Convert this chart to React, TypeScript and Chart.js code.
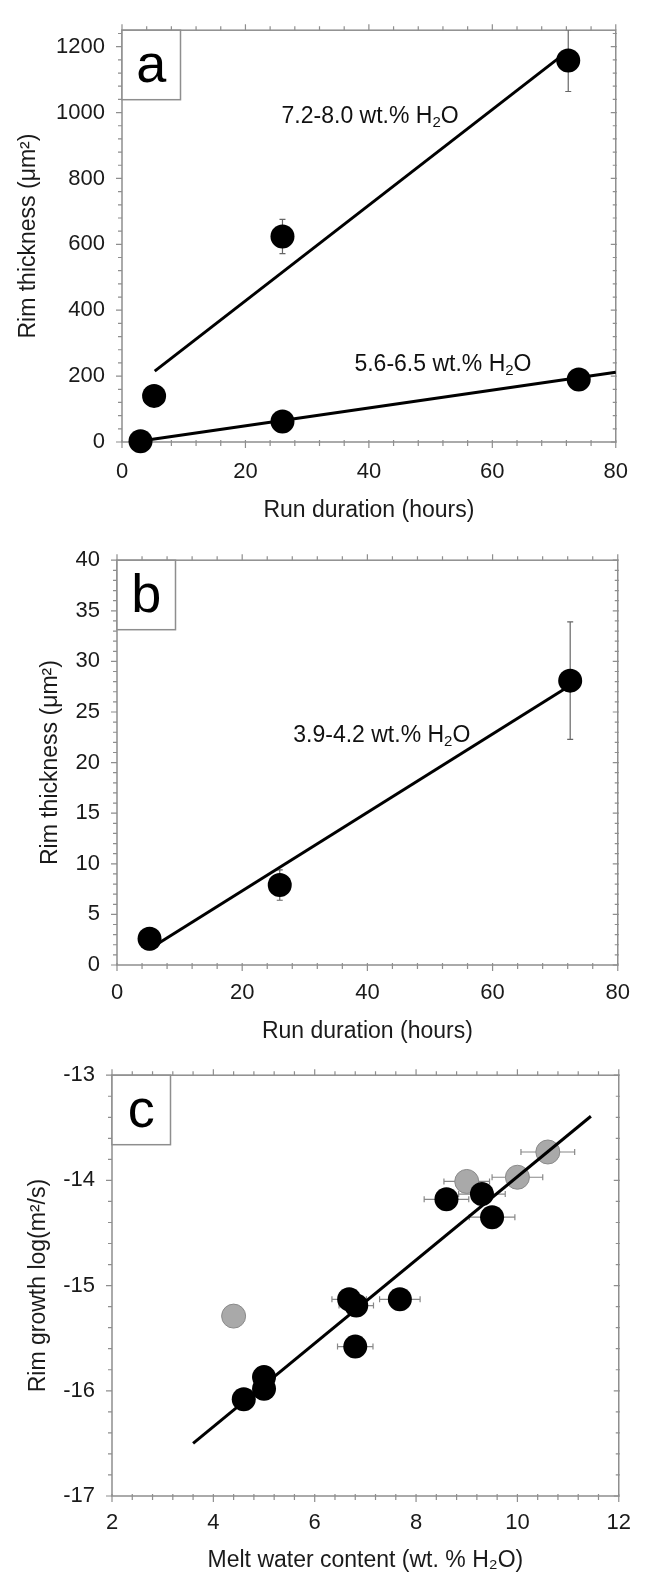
import React, { useEffect, useRef } from "react";
import { Chart, registerables } from "chart.js";

Chart.register(...registerables);

const FONT = "'Liberation Sans', Arial, Helvetica, sans-serif";

// ---------- Panel a ----------
const aHighX = [5.2, 26, 72.3];
const aHighY = [140, 624, 1158];
const aHighErr = [0, 52, 94];
const aLowX = [3, 26, 74];
const aLowY = [2, 62, 190];
const aHighFitX = [5.3, 70.8];
const aHighFitY = [215, 1166];
const aLowFitX = [3, 80];
const aLowFitY = [3, 212];
const aXTicks = [0, 20, 40, 60, 80];
const aYTicks = [0, 200, 400, 600, 800, 1000, 1200];

// ---------- Panel b ----------
const bX = [5.2, 26, 72.4];
const bY = [2.6, 7.9, 28.1];
const bErr = [1.1, 1.5, 5.8];
const bFitX = [6.0, 71.8];
const bFitY = [1.9, 27.4];
const bXTicks = [0, 20, 40, 60, 80];
const bYTicks = [0, 5, 10, 15, 20, 25, 30, 35, 40];

// ---------- Panel c ----------
const cBlackX = [8.6, 9.3, 9.5, 6.68, 6.82, 7.68, 6.8, 5.0, 5.0, 4.6];
const cBlackY = [-14.18, -14.13, -14.35, -15.13, -15.19, -15.13, -15.58, -15.87, -15.98, -16.08];
const cBlackXErr = [0.44, 0.46, 0.45, 0.34, 0.34, 0.4, 0.35, 0.2, 0.2, 0];
const cGrayX = [4.4, 9.0, 10.0, 10.6];
const cGrayY = [-15.29, -14.01, -13.97, -13.73];
const cGrayXErr = [0, 0.45, 0.5, 0.53];
const cFitX = [3.6, 11.45];
const cFitY = [-16.5, -13.39];
const cXTicks = [2, 4, 6, 8, 10, 12];
const cYTicks = [-17, -16, -15, -14, -13];

const pts = (xs: number[], ys: number[]) => xs.map((x, i) => ({ x, y: ys[i] }));

type Note = { x: number; y: number; main: string; sub: string; tail: string };
type ErrSet = { x: number[]; y: number[]; ex?: number[]; ey?: number[]; color: string };

type Panel = {
  top: number;
  height: number;
  xMin: number; xMax: number; yMin: number; yMax: number;
  xTicks: number[]; yTicks: number[];
  xMinor: number; yMinor: number;
  datasets: any[];
  errs: ErrSet[];
  notes: Note[];
  letter: string;
  xTitle: string; yTitle: string;
  padTop: number; padRight: number;
  yAxisWidth: number; xAxisHeight: number;
  tickPadX: number; titlePadX: number; titlePadY: number;
};

const line = (xs: number[], ys: number[]) => ({
  data: pts(xs, ys),
  showLine: true,
  borderColor: "#000",
  borderWidth: 3,
  pointRadius: 0,
  clip: false,
});
const dots = (xs: number[], ys: number[], fill: string, stroke: string, bw: number) => ({
  data: pts(xs, ys),
  showLine: false,
  pointRadius: 12,
  pointBackgroundColor: fill,
  pointBorderColor: stroke,
  pointBorderWidth: bw,
  backgroundColor: fill,
  borderColor: stroke,
  clip: false,
});

const panels: Panel[] = [
  {
    top: 0, height: 530,
    xMin: 0, xMax: 80, yMin: 0, yMax: 1250,
    xTicks: aXTicks, yTicks: aYTicks, xMinor: 4, yMinor: 40,
    datasets: [
      line(aHighFitX, aHighFitY),
      line(aLowFitX, aLowFitY),
      dots(aHighX, aHighY, "#000", "#000", 0),
      dots(aLowX, aLowY, "#000", "#000", 0),
    ],
    errs: [{ x: aHighX, y: aHighY, ey: aHighErr, color: "#666" }],
    notes: [
      { x: 40.2, y: 992, main: "7.2-8.0 wt.% H", sub: "2", tail: "O" },
      { x: 52, y: 239, main: "5.6-6.5 wt.% H", sub: "2", tail: "O" },
    ],
    letter: "a",
    xTitle: "Run duration (hours)",
    yTitle: "Rim thickness (\u03bcm\u00b2)",
    padTop: 13, padRight: 14, yAxisWidth: 122, xAxisHeight: 88,
    tickPadX: 17, titlePadX: 6, titlePadY: 15,
  },
  {
    top: 530, height: 515,
    xMin: 0, xMax: 80, yMin: 0, yMax: 40,
    xTicks: bXTicks, yTicks: bYTicks, xMinor: 4, yMinor: 1,
    datasets: [line(bFitX, bFitY), dots(bX, bY, "#000", "#000", 0)],
    errs: [{ x: bX, y: bY, ey: bErr, color: "#666" }],
    notes: [{ x: 42.3, y: 22.8, main: "3.9-4.2 wt.% H", sub: "2", tail: "O" }],
    letter: "b",
    xTitle: "Run duration (hours)",
    yTitle: "Rim thickness (\u03bcm\u00b2)",
    padTop: 23, padRight: 20, yAxisWidth: 117, xAxisHeight: 80,
    tickPadX: 15, titlePadX: 0, titlePadY: 37,
  },
  {
    top: 1045, height: 530,
    xMin: 2, xMax: 12, yMin: -17, yMax: -13,
    xTicks: cXTicks, yTicks: cYTicks, xMinor: 0.4, yMinor: 0.2,
    datasets: [
      line(cFitX, cFitY),
      dots(cBlackX, cBlackY, "#000", "#000", 0),
      dots(cGrayX, cGrayY, "#a9a9a9", "#8a8a8a", 1),
    ],
    errs: [
      { x: cGrayX, y: cGrayY, ex: cGrayXErr, color: "#888" },
      { x: cBlackX, y: cBlackY, ex: cBlackXErr, color: "#888" },
    ],
    notes: [],
    letter: "c",
    xTitle: "Melt water content (wt. % H\u2082O)",
    yTitle: "Rim growth log(m\u00b2/s)",
    padTop: 30, padRight: 19, yAxisWidth: 112, xAxisHeight: 79,
    tickPadX: 14, titlePadX: 1, titlePadY: 25,
  },
];

function makePlugin(p: Panel) {
  return {
    id: "decor" + p.letter,
    beforeDatasetsDraw(chart: any) {
      const { ctx, chartArea, scales } = chart;
      const { left, right, top, bottom } = chartArea;
      const xs = scales.x;
      const ys = scales.y;
      ctx.save();
      ctx.strokeStyle = "#8e8e8e";
      ctx.lineWidth = 1.5;
      ctx.strokeRect(left, top, right - left, bottom - top);
      ctx.lineWidth = 1.2;
      ctx.beginPath();
      const nx = Math.round((p.xMax - p.xMin) / p.xMinor);
      for (let i = 0; i <= nx; i++) {
        const v = p.xMin + i * p.xMinor;
        const major = p.xTicks.some((t) => Math.abs(t - v) < 1e-6);
        const px = xs.getPixelForValue(v);
        const len = major ? 6 : 4;
        ctx.moveTo(px, bottom - 2);
        ctx.lineTo(px, bottom + len);
        ctx.moveTo(px, top);
        ctx.lineTo(px, top - len);
      }
      const ny = Math.round((p.yMax - p.yMin) / p.yMinor);
      for (let i = 0; i <= ny; i++) {
        const v = p.yMin + i * p.yMinor;
        const major = p.yTicks.some((t) => Math.abs(t - v) < 1e-6);
        const py = ys.getPixelForValue(v);
        const len = major ? 6 : 4;
        ctx.moveTo(left, py);
        ctx.lineTo(left - len, py);
        ctx.moveTo(right + 1, py);
        ctx.lineTo(right - len + 1, py);
      }
      ctx.stroke();

      // error bars
      ctx.save();
      ctx.beginPath();
      ctx.rect(left, top, right - left, bottom - top);
      ctx.clip();
      for (const e of p.errs) {
        ctx.strokeStyle = e.color;
        ctx.lineWidth = 1.2;
        ctx.beginPath();
        e.x.forEach((xv, i) => {
          const yv = e.y[i];
          const cx = xs.getPixelForValue(xv);
          const cy = ys.getPixelForValue(yv);
          if (e.ey && e.ey[i] > 0) {
            const y1 = ys.getPixelForValue(yv + e.ey[i]);
            const y2 = ys.getPixelForValue(yv - e.ey[i]);
            ctx.moveTo(cx, y1); ctx.lineTo(cx, y2);
            ctx.moveTo(cx - 3, y1); ctx.lineTo(cx + 3, y1);
            ctx.moveTo(cx - 3, y2); ctx.lineTo(cx + 3, y2);
          }
          if (e.ex && e.ex[i] > 0) {
            const x1 = xs.getPixelForValue(xv - e.ex[i]);
            const x2 = xs.getPixelForValue(xv + e.ex[i]);
            ctx.moveTo(x1, cy); ctx.lineTo(x2, cy);
            ctx.moveTo(x1, cy - 3); ctx.lineTo(x1, cy + 3);
            ctx.moveTo(x2, cy - 3); ctx.lineTo(x2, cy + 3);
          }
        });
        ctx.stroke();
      }
      ctx.restore();
      ctx.restore();
    },
    afterDatasetsDraw(chart: any) {
      const { ctx, chartArea, scales } = chart;
      ctx.save();
      // notes with subscript
      for (const n of p.notes) {
        const cx = scales.x.getPixelForValue(n.x);
        const cy = scales.y.getPixelForValue(n.y);
        const big = `23px ${FONT}`;
        const small = `15px ${FONT}`;
        ctx.font = big;
        const w1 = ctx.measureText(n.main).width;
        const w3 = ctx.measureText(n.tail).width;
        ctx.font = small;
        const w2 = ctx.measureText(n.sub).width;
        let sx = cx - (w1 + w2 + w3) / 2;
        const base = cy + 8;
        ctx.fillStyle = "#111";
        ctx.textBaseline = "alphabetic";
        ctx.textAlign = "left";
        ctx.font = big;
        ctx.fillText(n.main, sx, base);
        sx += w1;
        ctx.font = small;
        ctx.fillText(n.sub, sx, base + 4);
        sx += w2;
        ctx.font = big;
        ctx.fillText(n.tail, sx, base);
      }
      // panel letter box
      const bw = 58.5, bh = 69.5;
      ctx.fillStyle = "#fff";
      ctx.fillRect(chartArea.left, chartArea.top, bw, bh);
      ctx.strokeStyle = "#8e8e8e";
      ctx.lineWidth = 1.5;
      ctx.strokeRect(chartArea.left, chartArea.top, bw, bh);
      ctx.fillStyle = "#000";
      ctx.font = `54px ${FONT}`;
      ctx.textAlign = "center";
      ctx.textBaseline = "alphabetic";
      ctx.fillText(p.letter, chartArea.left + bw / 2, chartArea.top + 52);
      ctx.restore();
    },
  };
}

function buildConfig(p: Panel): any {
  return {
    type: "scatter",
    data: { datasets: p.datasets },
    options: {
      animation: false,
      responsive: false,
      events: [],
      devicePixelRatio: 1,
      layout: { padding: { left: 0, right: p.padRight, top: p.padTop, bottom: 0 } },
      plugins: { legend: { display: false }, tooltip: { enabled: false } },
      scales: {
        x: {
          type: "linear",
          position: "bottom",
          min: p.xMin,
          max: p.xMax,
          grid: { display: false, drawTicks: false },
          border: { display: false },
          ticks: {
            font: { size: 22, family: FONT },
            color: "#1a1a1a",
            padding: p.tickPadX,
            maxRotation: 0,
            autoSkip: false,
            callback: (v: any) => String(v),
          },
          afterBuildTicks: (s: any) => {
            s.ticks = p.xTicks.map((v) => ({ value: v }));
          },
          afterFit: (s: any) => {
            s.height = p.xAxisHeight;
          },
          title: {
            display: true,
            text: p.xTitle,
            font: { size: 23, family: FONT },
            color: "#1a1a1a",
            padding: { top: 0, bottom: p.titlePadX },
          },
        },
        y: {
          type: "linear",
          position: "left",
          min: p.yMin,
          max: p.yMax,
          grid: { display: false, drawTicks: false },
          border: { display: false },
          ticks: {
            font: { size: 22, family: FONT },
            color: "#1a1a1a",
            padding: 17,
            autoSkip: false,
            callback: (v: any) => String(v),
          },
          afterBuildTicks: (s: any) => {
            s.ticks = p.yTicks.map((v) => ({ value: v }));
          },
          afterFit: (s: any) => {
            s.width = p.yAxisWidth;
          },
          title: {
            display: true,
            text: p.yTitle,
            font: { size: 23, family: FONT },
            color: "#1a1a1a",
            padding: { top: p.titlePadY, bottom: 0 },
          },
        },
      },
    },
    plugins: [makePlugin(p)],
  };
}

export default function App() {
  const refs = useRef<(HTMLCanvasElement | null)[]>([]);
  useEffect(() => {
    Chart.defaults.font.family = FONT;
    const charts = panels.map((p, i) => {
      const c = refs.current[i]!;
      return new Chart(c, buildConfig(p));
    });
    return () => charts.forEach((c) => c.destroy());
  }, []);
  return (
    <div style={{ position: "absolute", left: 0, top: 0, width: 645, height: 1575, background: "#fff" }}>
      {panels.map((p, i) => (
        <canvas
          key={p.letter}
          ref={(el) => {
            refs.current[i] = el;
          }}
          width={645}
          height={p.height}
          style={{ position: "absolute", left: 0, top: p.top, width: 645, height: p.height }}
        />
      ))}
    </div>
  );
}
